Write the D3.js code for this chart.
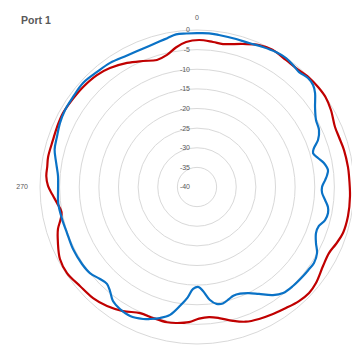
<!DOCTYPE html>
<html>
<head>
<meta charset="utf-8">
<script src="https://cdn.jsdelivr.net/npm/d3@7"></script>
<style>
  html, body { margin: 0; padding: 0; background: #ffffff; }
  svg { display: block; }
</style>
</head>
<body>
<svg id="chart" width="352" height="352"></svg>
<script>
// Radiation pattern, Port 1 (gain in dB vs azimuth in degrees)
const title = "Port 1";
const ringTicks = [0, -5, -10, -15, -20, -25, -30, -35, -40];
const angleTicks = [0, 270];

const redAngles = [0.8, 6.3, 10.3, 17.8, 23.6, 28.8, 35, 39.8, 45.5, 50.7, 55.1, 60.1, 66.5, 70.6, 75.9, 82.5, 85.9,
  93.4, 100.9, 107.5, 112.3, 116.6, 122.1, 128.9, 133.4, 138.2, 143.7, 149.1, 154.8, 160.1, 165, 170.5, 174.7,
  179.1, 183.4, 188.8, 192.5, 198.6, 204.3, 210.8, 217.1, 223.1, 229.8, 236.5, 242.3, 248.1, 253.2, 256.7,
  259.5, 263.5, 267, 270.4, 274.2, 277.6, 281.4, 288.1, 293.2, 298.9, 304.8, 311.3, 318.2, 323.8, 330.6,
  336.8, 342.5, 347.2, 351.4, 355.7];
const redDb = [-2.55, -2.83, -2.98, -1.73, -0.53, -0.1, -0.5, -0.56, -0.1, 0.0, -0.05, -0.64, -1.66, -1.66, -1.38, -1.2, -1.17,
  -0.95, -0.82, -1.0, -1.73, -2.4, -2.1, -1.05, -0.7, -1.02, -1.73, -2.29, -2.85, -3.5, -4.7, -6.15, -6.7,
  -6.45, -5.5, -4.94, -4.7, -4.8, -4.76, -3.2, -1.99, -1.25, -0.95, -0.28, -0.56, -1.81, -3.0, -4.3,
  -4.9, -4.1, -3.1, -2.04, -1.5, -1.5, -1.3, -1.4, -1.2, -1.0, -1.2, -1.38, -1.75, -2.45, -3.72,
  -5.07, -6.06, -5.5, -4.05, -2.96];

const blueAngles = [0, 4.5, 8.2, 14.8, 19.9, 25.2, 30.3, 34.6, 38.2, 41.6, 45.5, 48.7, 51.5, 55.9, 60.6, 65, 68.8,
  71.6, 73.7, 76.5, 79.3, 82.6, 84.7, 86.9, 90, 92.7, 95.8, 98.7, 101.2, 104.5, 107.7, 111.1, 115.2, 118.8,
  123, 126.2, 130, 135.9, 140.9, 144.9, 149.9, 153.9, 158, 161.5, 164.1, 167.5, 170.5, 173.6, 176.7, 179,
  182.2, 184.8, 188, 191.9, 195.8, 199.6, 202.2, 207.4, 212.3, 216.4, 219.9, 222.9, 226.5, 231.2, 236.2,
  243.4, 250.5, 256.7, 263.4, 269.2, 274.5, 279.7, 284.7, 289.7, 295, 300.3, 306, 312.4, 319, 325, 332,
  338.8, 345.7, 348.7, 352.2, 356];
const blueDb = [-0.8, -0.72, -0.87, -1.0, -1.0, -0.56, -0.15, -0.07, -0.46, -0.84, -0.36, -0.64, -1.56, -3.68, -5.2, -5.7, -6.93,
  -8.6, -9.2, -8.3, -7.1, -6.35, -6.7, -7.3, -8.15, -8.1, -7.2, -6.25, -5.97, -6.3, -7.4, -7.5, -6.5, -5.1,
  -4.46, -4.6, -4.7, -4.87, -5.2, -6.35, -8.5, -9.9, -10.7, -10.8, -10.3, -9.6, -9.8, -11.1, -13.45, -14.5,
  -14.0, -11.8, -9.5, -6.7, -5.3, -4.3, -3.67, -2.96, -3.24, -3.92, -5.45, -6.3, -5.94, -5.0, -4.74,
  -4.68, -4.87, -4.66, -4.4, -4.6, -4.48, -3.6, -2.5, -2.1, -1.47, -1.07, -0.97, -0.69, -1.17, -1.4, -2.05,
  -2.15, -1.7, -1.33, -0.74, -0.8];

const svg = d3.select("#chart");
const cx = 197, cy = 187;
const r = d3.scaleLinear().domain([-40, 0]).range([0, 157]);
const g = svg.append("g").attr("transform", `translate(${cx},${cy})`);

// concentric gridlines
g.selectAll("circle.grid")
  .data(ringTicks.filter(v => v > -40))
  .join("circle")
  .attr("class", "grid")
  .attr("r", d => r(d))
  .attr("fill", "none")
  .attr("stroke", "#d9d9d9")
  .attr("stroke-width", 1);

// value axis labels along the vertical axis
g.selectAll("text.ring")
  .data(ringTicks)
  .join("text")
  .attr("class", "ring")
  .attr("x", -7)
  .attr("y", d => -r(d))
  .attr("dy", "0.35em")
  .attr("text-anchor", "end")
  .attr("font-family", "Liberation Sans, Arial, sans-serif")
  .attr("font-size", 7)
  .attr("fill", "#595959")
  .text(d => d);

// angle labels
const labelR = 169;
g.selectAll("text.ang")
  .data(angleTicks)
  .join("text")
  .attr("class", "ang")
  .attr("x", d => Math.sin(d * Math.PI / 180) * labelR)
  .attr("y", d => -Math.cos(d * Math.PI / 180) * labelR)
  .attr("dy", "0.35em")
  .attr("text-anchor", d => d === 270 ? "end" : "middle")
  .attr("font-family", "Liberation Sans, Arial, sans-serif")
  .attr("font-size", 7)
  .attr("fill", "#595959")
  .text(d => d);

// pattern traces
function trace(angles, values, color) {
  const line = d3.lineRadial()
    .angle((d, i) => angles[i] * Math.PI / 180)
    .radius(d => r(d))
    .curve(d3.curveCatmullRomClosed.alpha(0.5));
  g.append("path")
    .attr("d", line(values))
    .attr("fill", "none")
    .attr("stroke", color)
    .attr("stroke-width", 2.2)
    .attr("stroke-linejoin", "round");
}
trace(redAngles, redDb, "#c00000");
trace(blueAngles, blueDb, "#0a72c6");

// title
svg.append("text")
  .attr("x", 21)
  .attr("y", 24)
  .attr("font-family", "Liberation Sans, Arial, sans-serif")
  .attr("font-weight", "bold")
  .attr("font-size", 10.5)
  .attr("fill", "#595959")
  .text(title);
</script>
</body>
</html>
